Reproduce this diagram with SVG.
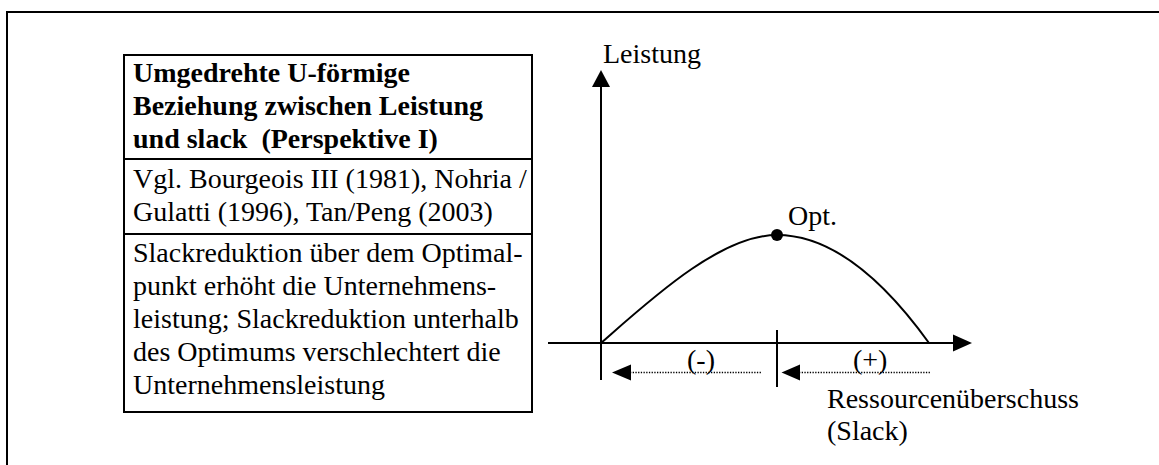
<svg xmlns="http://www.w3.org/2000/svg" width="1159" height="465" viewBox="0 0 1159 465">
  <style>
    text { font-family: "Liberation Serif", "Times New Roman", serif; font-size: 28px; fill: #000; }
    .b { font-weight: bold; }
    .ln { stroke: #000; stroke-width: 2; fill: none; }
    .dot { stroke: #000; stroke-width: 1.3; stroke-dasharray: 1.3 1.4; fill: none; }
    .head { fill: #000; stroke: none; }
  </style>
  <rect x="0" y="0" width="1159" height="465" fill="#fff"/>
  <g id="frame">
    <path class="ln" d="M7,465 V12 H1159"/>
  </g>
  <g id="table">
    <rect class="ln" x="124" y="55" width="408" height="357"/>
    <line class="ln" x1="124" y1="159" x2="532" y2="159"/>
    <line class="ln" x1="123" y1="234" x2="531" y2="234"/>
    <text class="b" x="133" y="82">Umgedrehte U-förmige</text>
    <text class="b" x="133" y="115">Beziehung zwischen Leistung</text>
    <text class="b" x="133" y="148" xml:space="preserve">und slack  (Perspektive I)</text>
    <text x="133" y="188">Vgl. Bourgeois III (1981), Nohria /</text>
    <text x="133" y="221">Gulatti (1996), Tan/Peng (2003)</text>
    <text x="133" y="262">Slackreduktion über dem Optimal-</text>
    <text x="133" y="295">punkt erhöht die Unternehmens-</text>
    <text x="133" y="328">leistung; Slackreduktion unterhalb</text>
    <text x="133" y="361">des Optimums verschlechtert die</text>
    <text x="133" y="394">Unternehmensleistung</text>
  </g>
  <g id="connectors">
    <g id="y-axis">
      <line class="ln" x1="601" y1="380" x2="601" y2="84"/>
      <polygon class="head" points="601,70 592,87 610,87"/>
    </g>
    <g id="x-axis">
      <line class="ln" x1="548" y1="343" x2="956" y2="343"/>
      <polygon class="head" points="972,343 953,334.5 953,351.5"/>
    </g>
    <line id="tick" class="ln" x1="777" y1="330" x2="777" y2="387"/>
    <path id="curve" class="ln" d="M601,343 C650,300 720,235 777,235 C830,235 880,275 929,343"/>
    <g id="arrow-minus">
      <line class="dot" x1="630" y1="372.5" x2="761" y2="372.5"/>
      <polygon class="head" points="612,372.5 631,364.5 631,380.5"/>
    </g>
    <g id="arrow-plus">
      <line class="dot" x1="799" y1="372.5" x2="930" y2="372.5"/>
      <polygon class="head" points="781.5,372.5 800,364.5 800,380.5"/>
    </g>
  </g>
  <g id="optimum">
    <circle cx="777" cy="235" r="6" fill="#000"/>
    <text x="788" y="225">Opt.</text>
  </g>
  <g id="labels">
    <text x="603" y="63">Leistung</text>
    <text x="687" y="369">(-)</text>
    <text x="853" y="369">(+)</text>
    <text x="827" y="408">Ressourcenüberschuss</text>
    <text x="827" y="440">(Slack)</text>
  </g>
</svg>
